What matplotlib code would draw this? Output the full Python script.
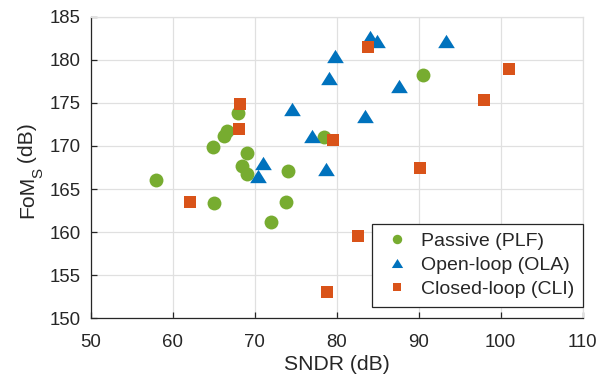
import numpy as np
import matplotlib
matplotlib.use('Agg')
import matplotlib.pyplot as plt

plt.rcParams['font.family'] = ['Liberation Sans', 'DejaVu Sans']

# Passive (PLF)
sndr_plf = [58.0, 64.9, 66.2, 66.6, 68.0, 69.1, 68.5, 69.1, 74.0, 78.4, 65.0, 73.8, 72.0, 90.5]
fom_plf = [166.0, 169.9, 171.2, 171.7, 173.8, 169.2, 167.7, 166.8, 167.1, 171.0, 163.4, 163.5, 161.2, 178.2]

# Open-loop (OLA)
sndr_ola = [79.8, 79.0, 74.6, 77.0, 71.0, 70.4, 78.7, 84.1, 84.9, 93.3, 87.6, 83.4]
fom_ola = [180.4, 177.9, 174.3, 171.1, 168.0, 166.5, 167.3, 182.6, 182.2, 182.2, 177.0, 173.5]

# Closed-loop (CLI)
sndr_cli = [68.2, 68.1, 79.6, 83.8, 101.0, 98.0, 90.2, 62.1, 78.8, 82.6]
fom_cli = [174.9, 172.0, 170.7, 181.5, 178.9, 175.3, 167.4, 163.5, 153.1, 159.5]

green = '#77AC30'
blue = '#0072BD'
orange = '#D95319'
dark = '#262626'
gridc = '#e0e0e0'

tri = [(0, 1), (-1.25, -1), (1.25, -1)]

fig = plt.figure(figsize=(6.15, 3.77), dpi=100)
ax = fig.add_axes([0.1475, 0.1557, 0.80, 0.8000])

ax.plot(sndr_plf, fom_plf, 'o', color=green, markersize=10, markeredgewidth=0, label='Passive (PLF)')
ax.plot(sndr_ola, fom_ola, linestyle='none', marker=tri, color=blue, markersize=12, markeredgewidth=0, label='Open-loop (OLA)')
ax.plot(sndr_cli, fom_cli, 's', color=orange, markersize=8.6, markeredgewidth=0, label='Closed-loop (CLI)')

ax.set_xlim(50, 110)
ax.set_ylim(150, 185)
ax.set_xticks(np.arange(50, 111, 10))
ax.set_yticks(np.arange(150, 186, 5))
ax.grid(True, color=gridc, linewidth=0.9)
ax.set_axisbelow(True)

for s in ['left', 'bottom']:
    ax.spines[s].set_color(dark)
    ax.spines[s].set_linewidth(0.9)
for s in ['top', 'right']:
    ax.spines[s].set_color(gridc)
    ax.spines[s].set_linewidth(0.9)

ax.tick_params(direction='in', length=4, width=0.9, color=dark, labelsize=13.4, labelcolor=dark)
ax.tick_params(axis='x', pad=11)
ax.tick_params(axis='y', pad=7)
ax.tick_params(top=False, right=False)

ax.set_xlabel('SNDR (dB)', fontsize=15.2, color=dark, labelpad=3)

# y label with a lowered subscript, built from pieces
W, H = 615.0, 377.0
fs = 15.2
t1 = fig.text(33 / W, 1 - 218 / H, 'FoM', fontsize=fs, color=dark, rotation=90,
              rotation_mode='anchor', ha='left', va='baseline')
fig.canvas.draw()
r = fig.canvas.get_renderer()
b1 = t1.get_window_extent(r)
t2 = fig.text(42 / W, (b1.y1 - 2.0) / H, 'S', fontsize=fs * 0.72, color=dark, rotation=90,
              rotation_mode='anchor', ha='left', va='baseline')
b2 = t2.get_window_extent(r)
fig.text(33 / W, (b2.y1 - 1.0) / H, ' (dB)', fontsize=fs, color=dark, rotation=90,
         rotation_mode='anchor', ha='left', va='baseline')

leg = ax.legend(loc='lower right', bbox_to_anchor=(1.0, 0.0385), borderaxespad=0,
                fontsize=14, markerscale=0.68, fancybox=False, framealpha=1,
                handletextpad=0.33, labelspacing=0.33, borderpad=0.45, handlelength=1.75)
leg.get_frame().set_edgecolor(dark)
leg.get_frame().set_linewidth(0.9)
for t in leg.get_texts():
    t.set_color(dark)

fig.savefig('out.png', dpi=100)
